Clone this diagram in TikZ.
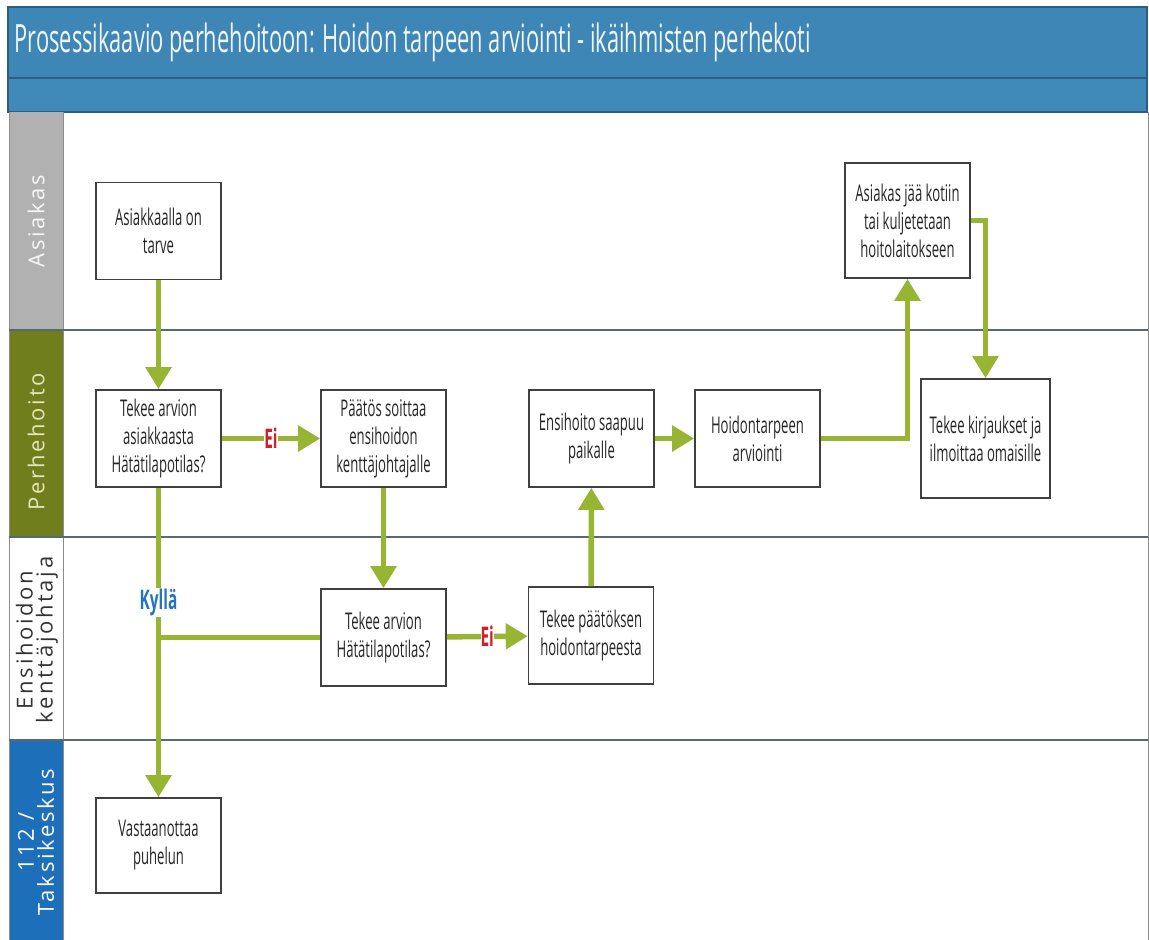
\documentclass[tikz,border=0pt]{standalone}
\usepackage{fontspec}
\setmainfont{Open Sans}[FakeStretch=0.57]
\newfontfamily\titlefont{Open Sans}[FakeStretch=0.56]
\newfontfamily\lanefont{Open Sans}[LetterSpace=12]
\usetikzlibrary{arrows.meta}

\definecolor{titleblue}{HTML}{3D86B5}
\definecolor{titleedge}{HTML}{2B5F82}
\definecolor{bandblue}{HTML}{3F8AB9}
\definecolor{asiakasgray}{HTML}{B1B1B1}
\definecolor{perheolive}{HTML}{707E1E}
\definecolor{taksiblue}{HTML}{1E6FBA}
\definecolor{laneline}{HTML}{5B6870}
\definecolor{flowgreen}{HTML}{98B433}
\definecolor{eired}{HTML}{D11F2A}
\definecolor{kyllablue}{HTML}{2475BB}

\begin{document}
\begin{tikzpicture}[x=1pt, y=-1pt,
            every node/.style={font=\fontsize{23}{28}\selectfont, text=black!85},
            box/.style={draw=black!75, line width=1.6pt, fill=white, align=center,
                        minimum width=125pt, minimum height=97pt, inner sep=2pt},
            flow/.style={draw=flowgreen, line width=5.5pt, -{Triangle[length=22pt,width=25pt]}},
            joinline/.style={draw=flowgreen, line width=5.5pt},
            lanetext/.style={rotate=90, align=center, font=\lanefont\fontsize{22}{20}\selectfont},
            ei/.style={fill=white, inner sep=0pt, text=eired, font=\bfseries\fontsize{27}{27}\selectfont},
            kylla/.style={fill=white, inner sep=1pt, text=kyllablue, font=\bfseries\fontsize{27}{27}\selectfont},
            ]
            \useasboundingbox (0,0) rectangle (1149,940);

            % title and band
            \fill[titleblue] (8,7) rectangle (1147,78);
            \fill[bandblue] (8,78) rectangle (1147,112);
            \draw[titleedge, line width=1.5pt] (8,7) rectangle (1147,112) (8,78) -- (1147,78);
            \node[anchor=west, text=white!92!titleblue, font=\titlefont\fontsize{39}{39}\selectfont]
                (title) at (11,42) {Prosessikaavio perhehoitoon: Hoidon tarpeen arviointi - ikäihmisten perhekoti};

            % lanes
            \fill[asiakasgray] (10,112) rectangle (63,330);
            \fill[perheolive] (10,330) rectangle (63,537);
            \fill[taksiblue] (10,740) rectangle (63,940);
            \draw[black!45, line width=0.8pt] (63,112) -- (63,940) (9,112) -- (9,940) (1148,112) -- (1148,940);
            \foreach \y in {330,537,740}
                \draw[laneline, line width=2pt] (9,\y) -- (1148,\y);

            \node[lanetext, text=white!90!asiakasgray] (lane1) at (36,221) {Asiakas};
            \node[lanetext, text=white!85!yellow!80!perheolive] (lane2) at (36,442) {Perhehoito};
            \node[lanetext, text=black!80] (lane3) at (37,640) {Ensihoidon\\kenttäjohtaja};
            \node[lanetext, text=white] (lane4) at (36,842) {112 /\\Taksikeskus};

            % steps
            \node[box] (tarve) at (158.5,231) {Asiakkaalla on\\tarve};
            \node[box] (arvio) at (158.5,438.5) {Tekee arvion\\asiakkaasta\\Hätätilapotilas?};
            \node[box] (paatos) at (383.5,438.5) {Päätös soittaa\\ensihoidon\\kenttäjohtajalle};
            \node[box] (arvio2) at (383.5,637.5) {Tekee arvion\\Hätätilapotilas?};
            \node[box] (hoidontarve) at (591,635.5) {Tekee päätöksen\\hoidontarpeesta};
            \node[box] (saapuu) at (591.5,438.5) {Ensihoito saapuu\\paikalle};
            \node[box] (arviointi) at (757.5,438.5) {Hoidontarpeen\\arviointi};
            \node[box, minimum height=115pt] (kotiin) at (907.5,220.5) {Asiakas jää kotiin\\tai kuljetetaan\\hoitolaitokseen};
            \node[box, minimum width=129pt, minimum height=119pt] (kirjaukset) at (985.5,438.5) {Tekee kirjaukset ja\\ilmoittaa omaisille};
            \node[box, minimum height=95pt] (puhelu) at (158.5,845.5) {Vastaanottaa\\puhelun};

            % connectors
            \draw[flow] (tarve) -- (arvio);
            \draw[flow] (arvio) -- node[ei] (ei1) {Ei} (paatos);
            \draw[flow] (paatos) -- (arvio2);
            \draw[flow] (arvio) -- node[kylla, pos=0.37] (kylla) {Kyllä} (puhelu);
            \draw[joinline] (arvio2.west) -- (arvio2.west -| arvio.south);
            \draw[flow] (arvio2) -- node[ei] (ei2) {Ei} (hoidontarve);
            \draw[flow] (hoidontarve) -- (saapuu);
            \draw[flow] (saapuu) -- (arviointi);
            \draw[flow] (arviointi.east) -| (kotiin.south);
            \draw[flow] (kotiin.east) -| (kirjaukset.north);
        \end{tikzpicture}
\end{document}
